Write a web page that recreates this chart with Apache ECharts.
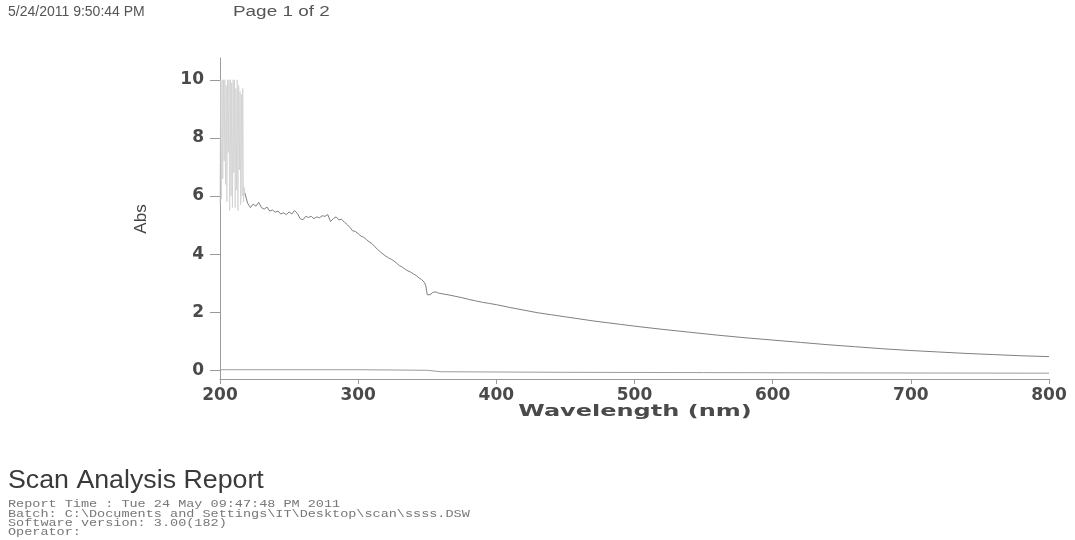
<!DOCTYPE html>
<html>
<head>
<meta charset="utf-8">
<script src="https://cdn.jsdelivr.net/npm/echarts@6/dist/echarts.min.js"></script>
<style>
html,body{margin:0;padding:0;background:#fff;}
#chart{width:1075px;height:540px;}
</style>
</head>
<body>
<div id="chart"></div>
<script>
// ---- data ----
var headerDate = '5/24/2011 9:50:44 PM';
var headerPage = 'Page 1 of 2';
var reportTitle = 'Scan Analysis Report';
var reportLines = [
  'Report Time : Tue 24 May 09:47:48 PM 2011',
  'Batch: C:\\Documents and Settings\\IT\\Desktop\\scan\\ssss.DSW',
  'Software version: 3.00(182)',
  'Operator:'
];
var xAxisTitle = 'Wavelength (nm)';
var yAxisTitle = 'Abs';
var yTickValues = [0, 2, 4, 6, 8, 10];

// noisy saturated region (nm, Abs)
var noiseWl = [200,200.5,201,201.5,202,202.5,203,203.5,204,204.5,205,205.5,206,206.5,207,207.5,208,208.5,209,209.5,210,210.5,211,211.5,212,212.5,213,213.5,214,214.5,215,215.5,216,216.5,217,217.5,218];
var noiseAbs = [5.7,10,5.9,10,6.6,10,7.2,10,6.4,9.8,5.8,10,7.5,10,5.5,10,6.0,9.9,5.6,10,6.8,10,5.6,9.7,6.2,10,5.5,9.8,6.9,9.6,5.7,9.5,6.0,9.7,5.8,6.3,6.1];

// main spectrum (nm, Abs)
var scanWl = [218,220,222,224,226,228,230,232,234,236,238,240,242,244,246,248,250,252,254,256,258,260,262,264,266,268,270,272,274,276,278,280,282,284,286,288,290,292,294,296,298,300,302,304,306,308,310,312,314,316,318,320,322,324,326,328,330,332,334,336,338,340,342,344,346,348,349,350,351,352,354,356,358,360,365,370,375,380,385,390,395,400,410,420,430,440,450,460,470,480,490,500,520,540,560,580,600,620,640,660,680,700,720,740,760,780,800];
var scanAbs = [6.1,5.75,5.6,5.72,5.65,5.78,5.6,5.55,5.62,5.48,5.52,5.44,5.48,5.38,5.42,5.36,5.45,5.38,5.5,5.4,5.22,5.18,5.3,5.26,5.3,5.22,5.28,5.25,5.32,5.3,5.36,5.12,5.22,5.28,5.18,5.2,5.1,5.02,4.92,4.8,4.78,4.7,4.62,4.58,4.5,4.42,4.36,4.26,4.16,4.08,4.0,3.93,3.87,3.82,3.76,3.68,3.6,3.55,3.48,3.42,3.38,3.32,3.26,3.18,3.12,3.02,2.9,2.6,2.55,2.6,2.68,2.7,2.66,2.64,2.6,2.55,2.5,2.44,2.39,2.34,2.3,2.26,2.16,2.07,1.98,1.91,1.84,1.77,1.7,1.64,1.58,1.52,1.41,1.31,1.21,1.12,1.04,0.96,0.88,0.81,0.74,0.68,0.63,0.58,0.54,0.5,0.47];

// baseline scan (nm, Abs)
var baseWl = [200,300,350,360,450,550,650,800];
var baseAbs = [0.02,0.02,0.0,-0.05,-0.07,-0.08,-0.09,-0.1];

function pairs(xs, ys){ var out=[]; for (var i=0;i<xs.length;i++) out.push([xs[i], ys[i]]); return out; }

var chart = echarts.init(document.getElementById('chart'));
var labelFont = 'DejaVu Sans';
chart.setOption({
  backgroundColor: '#ffffff',
  animation: false,
  grid: { left: 220, right: 26, top: 58, bottom: 161, containLabel: false },
  xAxis: {
    type: 'value', min: 200, max: 800, interval: 100,
    axisLine: { show: true, onZero: false, lineStyle: { color: '#9a9a9a', width: 1 } },
    axisTick: { show: true, inside: false, length: 5, lineStyle: { color: '#9a9a9a' } },
    axisLabel: { color: '#4a4a4a', fontFamily: labelFont, fontWeight: 'bold', fontSize: 17, margin: 8 },
    splitLine: { show: false }
  },
  yAxis: {
    type: 'value', min: -0.3, max: 10.75,
    axisLine: { show: true, onZero: false, lineStyle: { color: '#9a9a9a', width: 1 } },
    axisTick: { show: true, length: 10, customValues: yTickValues, lineStyle: { color: '#9a9a9a' } },
    axisLabel: { customValues: yTickValues, color: '#4a4a4a', fontFamily: labelFont, fontWeight: 'bold', fontSize: 17, margin: 16 },
    splitLine: { show: false }
  },
  series: [
    { type: 'line', data: pairs(baseWl, baseAbs), symbol: 'none', lineStyle: { color: '#9c9c9c', width: 1 }, silent: true },
    { type: 'line', data: pairs(noiseWl, noiseAbs), symbol: 'none', lineStyle: { color: '#cfcfcf', width: 0.8 }, silent: true },
    { type: 'line', data: pairs(scanWl, scanAbs), symbol: 'none', lineStyle: { color: '#808080', width: 1 }, silent: true }
  ],
  graphic: [
    { type: 'text', left: 8, top: 5, style: { text: headerDate, font: '14px "Liberation Sans", Arial, sans-serif', fill: '#555' } },
    { type: 'text', x: 233, y: 5, scaleX: 1.35, style: { text: headerPage, font: '14px "Liberation Sans", Arial, sans-serif', fill: '#555' } },
    { type: 'text', x: 141, y: 219, rotation: Math.PI/2, style: { text: yAxisTitle, font: '17px "Liberation Sans", Arial, sans-serif', fill: '#444', align: 'center', verticalAlign: 'middle' } },
    { type: 'text', x: 635, y: 412, scaleX: 1.5, style: { text: xAxisTitle, font: 'bold 16px "DejaVu Sans", sans-serif', fill: '#4a4a4a', align: 'center', verticalAlign: 'middle' } },
    { type: 'text', x: 8, y: 469, scaleX: 1.07, style: { text: reportTitle, font: '25px "Liberation Sans", Arial, sans-serif', fill: '#3a3a3a' } },
    { type: 'text', x: 8, y: 500, scaleX: 1.35, style: { text: reportLines.join('\n'), font: '10px "Liberation Mono", "DejaVu Sans Mono", monospace', lineHeight: 9.3, fill: '#777' } }
  ]
});
</script>
</body>
</html>
